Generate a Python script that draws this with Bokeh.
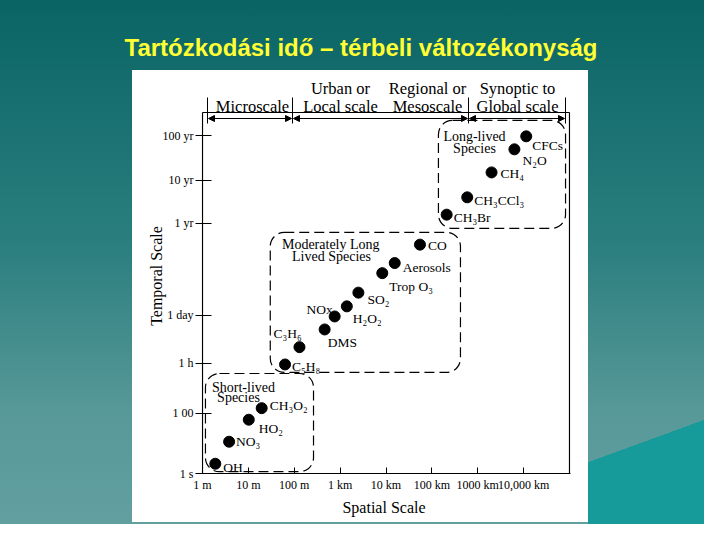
from bokeh.plotting import figure
from bokeh.models import (Range1d, FixedTicker, Label, Arrow, NormalHead, ColumnDataSource)
from bokeh.core.properties import value
from bokeh.embed import file_html
from bokeh.resources import INLINE

# ---------------- data ----------------
species = ["CFCs", "N₂O", "CH₄", "CH₃CCl₃", "CH₃Br", "CO", "Aerosols", "Trop  O₃",
           "SO₂", "H₂O₂", "NOx", "DMS", "C₃H₆", "C₅H₈", "CH₃O₂", "HO₂", "NO₃", "OH"]
spatial_m = [1.14e7, 6.3e6, 2.0e6, 5.9e5, 2.1e5, 5.5e4, 1.55e4, 8.3e3,
             2.5e3, 1.4e3, 760, 460, 130, 63, 19.5, 10.2, 3.8, 1.9]
temporal_pos = [9.34, 8.98, 8.34, 7.65, 7.17, 6.34, 5.83, 5.55,
                5.01, 4.63, 4.35, 3.99, 3.50, 3.02, 1.81, 1.49, 0.88, 0.27]

x_tick_m = [1, 10, 100, 1e3, 1e4, 1e5, 1e6, 1e7]
x_tick_labels = ["1 m", "10 m", "100 m", "1 km", "10 km", "100 km", "1000 km", "10,000 km"]
y_tick_pos = [0, 1.67, 3.06, 4.38, 6.93, 8.12, 9.36]
y_tick_labels = ["1 s", "1 00", "1 h", "1 day", "1 yr", "10 yr", "100 yr"]

group_names = [["Long-lived", "Species"], ["Moderately  Long", "Lived Species"], ["Short-lived", "Species"]]
group_left = [1.39e5, 30, 1.16]
group_right = [8.2e7, 4.2e5, 263]
group_bottom = [6.79, 2.80, 0.05]
group_top = [9.78, 6.68, 2.77]

scale_names = [["", "Microscale"], ["Urban or", "Local scale"], ["Regional or", "Mesoscale"],
               ["Synoptic to", "Global scale"]]

x_min, x_max = 1, 1e8          # spatial extent of the chart box
y_min, y_max = 0, 10           # temporal extent of the chart box

# ---------------- layout / style ----------------
label_dx = [6, 8, 9, 7, 7, 8, 8, 7, 9, 6, -2, 3, -26, 7, 8, 10, 7, 8]
label_dy = [9, 11, 1, 3, 3, 1, 4, 13, 7, 12, -7, 13, -14, 2, -3, 9, 0, 4]
label_right = [False] * len(species)
label_right[10] = True

SERIF = "Liberation Serif"
W, H = 704, 524
FL, FR, FT, FB = 201, 570, 74, 473          # frame edges (px)
PX_DEC = 45.875                              # px per decade on x
PX_UNIT = 36.1                               # px per unit on y

x_range = Range1d(10 ** (-1 / PX_DEC), 10 ** (8 + 1 / PX_DEC))
y_range = Range1d(0, (FB - FT) / PX_UNIT)

p = figure(width=W, height=H, x_axis_type="log", output_backend="svg",
           toolbar_location=None, x_range=x_range, y_range=y_range,
           min_border_left=FL, min_border_right=W - FR, min_border_top=FT,
           min_border_bottom=H - FB)
p.background_fill_color = "white"
p.border_fill_alpha = 0
p.outline_line_color = None
p.grid.visible = False
p.styles = {
    "background": (
        "linear-gradient(#ffffff, #ffffff) 132px 70px / 456px 452px no-repeat, "
        "linear-gradient(160deg, rgba(0,0,0,0) 29.8%, #169a9a 29.8%) 588px 418px / 116px 106px no-repeat, "
        "linear-gradient(180deg, #0a6464 0%, #2a7e7e 46%, #579898 78%, #62a0a0 100%)"
    )
}

# title
p.title.text = "Tartózkodási idő – térbeli változékonyság"
p.title.text_font = "Liberation Sans"
p.title.text_font_style = "bold"
p.title.text_font_size = "24px"
p.title.text_color = "#ffff33"
p.title.align = "left"
p.title.offset = -77
p.title.standoff = 28


def scr(X, Y):
    # page pixel -> frame-relative screen units
    return X - FL, FB - Y


# chart box (top, left, right edges)
p.segment(x0=[x_min, x_min, x_max], y0=[y_max, y_min, y_min],
          x1=[x_max, x_min, x_max], y1=[y_max, y_max, y_max],
          line_color="black", line_width=1.2)

# scale header
sep_x = [207, 292, 468, 565]
for X in sep_x:
    x0, y0 = scr(X, 97)
    x1, y1 = scr(X, 123)
    p.add_layout(Arrow(x_start=x0, y_start=y0, x_end=x1, y_end=y1, start_units="screen",
                       end_units="screen", start=None, end=None, line_color="black",
                       line_width=1))
for X0, X1 in zip(sep_x[:-1], sep_x[1:]):
    x0, y0 = scr(X0 + 1, 118)
    x1, y1 = scr(X1 - 1, 118)
    p.add_layout(Arrow(x_start=x0, y_start=y0, x_end=x1, y_end=y1, start_units="screen",
                       end_units="screen",
                       start=NormalHead(size=6, fill_color="black", line_color="black"),
                       end=NormalHead(size=6, fill_color="black", line_color="black"),
                       line_color="black", line_width=1))
hdr_cx = [252, 340, 427, 517]
for cx, lines in zip(hdr_cx, scale_names):
    for line, Y in zip(lines, [88, 106]):
        if not line:
            continue
        sx, sy = scr(cx, Y)
        p.add_layout(Label(x=sx, y=sy, x_units="screen", y_units="screen", text=line,
                           text_font=SERIF, text_font_size="16.5px", text_color="black",
                           text_align="center", text_baseline="alphabetic"))

# group boxes
p.quad(left=group_left, right=group_right, top=group_top, bottom=group_bottom,
       fill_alpha=0, line_color="black", line_width=1.2, line_dash="10 5", border_radius=14)
grp_pos = [[(474, 136), (474, 148)], [(332, 244), (331, 256)], [(243, 387), (238, 397)]]
for lines, pos in zip(group_names, grp_pos):
    for line, (X, Y) in zip(lines, pos):
        sx, sy = scr(X, Y)
        p.add_layout(Label(x=sx, y=sy, x_units="screen", y_units="screen", text=line,
                           text_font=SERIF, text_font_size="14px", text_color="black",
                           text_align="center", text_baseline="alphabetic"))

# points
src = ColumnDataSource(dict(x=spatial_m, y=temporal_pos))
p.scatter("x", "y", source=src, size=11, color="black")
for right in (False, True):
    idx = [i for i in range(len(species)) if label_right[i] == right]
    s = ColumnDataSource(dict(x=[spatial_m[i] for i in idx], y=[temporal_pos[i] for i in idx],
                              label=[species[i] for i in idx], dx=[label_dx[i] for i in idx],
                              dy=[label_dy[i] for i in idx]))
    p.text("x", "y", text="label", source=s, x_offset="dx", y_offset="dy",
           text_align="right" if right else "left", text_baseline="middle",
           text_font=value(SERIF), text_font_size="13.5px", text_color="black")

# axes
p.xaxis.ticker = FixedTicker(ticks=x_tick_m, minor_ticks=[])
p.xaxis.major_label_overrides = {t: lab for t, lab in zip(x_tick_m, x_tick_labels)}
p.yaxis.ticker = FixedTicker(ticks=y_tick_pos, minor_ticks=[])
p.yaxis.major_label_overrides = {t: lab for t, lab in zip(y_tick_pos, y_tick_labels)}
for ax in (p.xaxis, p.yaxis):
    ax.axis_line_color = "black"
    ax.major_tick_line_color = "black"
    ax.major_label_text_font = SERIF
    ax.major_label_text_font_size = "12px"
    ax.major_label_text_color = "black"
    ax.axis_label_text_font = SERIF
    ax.axis_label_text_font_size = "16px"
    ax.axis_label_text_font_style = "normal"
    ax.axis_label_text_color = "black"
p.yaxis.axis_line_color = None
p.xaxis.major_tick_in = 6
p.xaxis.major_tick_out = 0
p.xaxis.major_label_standoff = 4
p.xaxis.axis_label = "Spatial  Scale"
p.xaxis.axis_label_standoff = 4
p.yaxis.major_tick_in = 10
p.yaxis.major_tick_out = 6
p.yaxis.major_label_standoff = 2
p.yaxis.axis_label = "Temporal  Scale"
p.yaxis.axis_label_standoff = -5

open("out.html", "w").write(file_html(p, INLINE))
